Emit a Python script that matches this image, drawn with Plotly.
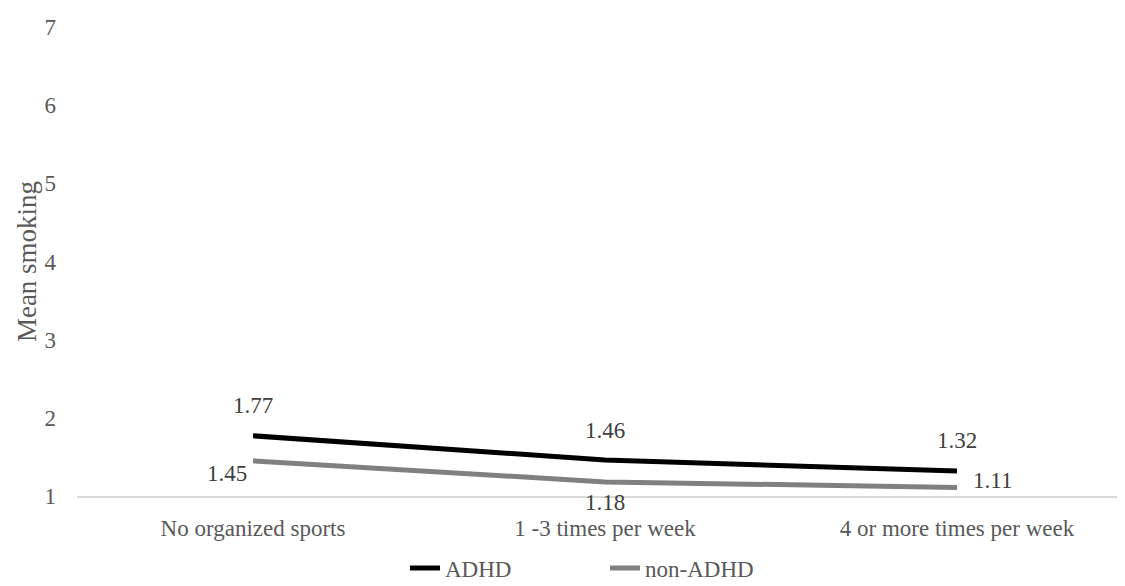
import plotly.graph_objects as go

categories = ["No organized sports", "1 -3 times per week", "4 or more times per week"]
adhd = [1.77, 1.46, 1.32]
non_adhd = [1.45, 1.18, 1.11]
y_ticks = [1, 2, 3, 4, 5, 6, 7]

FONT = "Liberation Serif, Times New Roman, serif"
TXT = "#595959"
LBL = "#404040"
FS = 23

fig = go.Figure()
fig.add_trace(go.Scatter(x=categories, y=adhd, name="ADHD", mode="lines",
                         line=dict(color="#000000", width=5)))
fig.add_trace(go.Scatter(x=categories, y=non_adhd, name="non-ADHD", mode="lines",
                         line=dict(color="#808080", width=5)))

# ADHD labels above
for c, v in zip(categories, adhd):
    fig.add_annotation(x=c, y=v, text=f"{v:.2f}", showarrow=False, yshift=30,
                       font=dict(family=FONT, size=FS, color=LBL))
# non-ADHD labels: left, below, right
shifts = [(-26, -13), (0, -21), (35, 7)]
for (c, v), (xs, ys) in zip(zip(categories, non_adhd), shifts):
    fig.add_annotation(x=c, y=v, text=f"{v:.2f}", showarrow=False, xshift=xs, yshift=ys,
                       font=dict(family=FONT, size=FS, color=LBL))

fig.update_layout(
    width=1125, height=586,
    margin=dict(l=69, r=0, t=19, b=98),
    plot_bgcolor="white", paper_bgcolor="white",
    font=dict(family=FONT, size=FS, color=TXT),
    showlegend=True,
    legend=dict(orientation="h", x=0.5, xanchor="center", y=-0.108, yanchor="top",
                entrywidth=155, entrywidthmode="pixels",
                font=dict(family=FONT, size=FS, color=TXT)),
    xaxis=dict(range=[-0.5, 2.5], showgrid=False, showline=True, linecolor="#d9d9d9", linewidth=1.5,
               ticks="", ticklabelstandoff=11, automargin=False,
               tickfont=dict(family=FONT, size=FS, color=TXT)),
    yaxis=dict(range=[1, 7], tickvals=y_ticks, showgrid=False, zeroline=False,
               showline=False, ticks="", ticklen=0, ticklabelstandoff=20, automargin=False,
               title=dict(text="Mean smoking", font=dict(family=FONT, size=27, color=TXT), standoff=0),
               tickfont=dict(family=FONT, size=FS, color=TXT)),
)

fig.write_html("out.html")
